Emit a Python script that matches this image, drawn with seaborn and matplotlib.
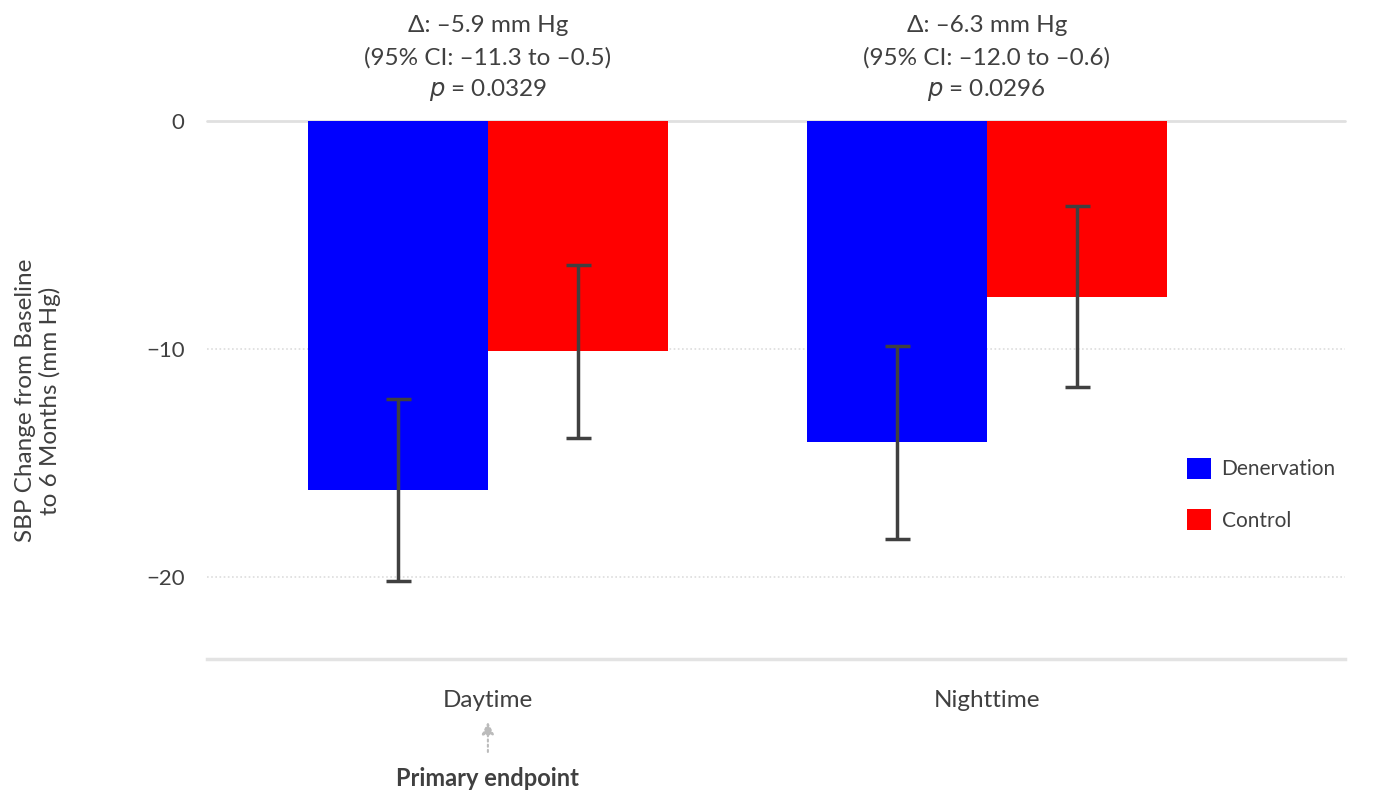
import matplotlib
matplotlib.use("Agg")
import matplotlib.pyplot as plt
import seaborn as sns
import pandas as pd
import numpy as np

categories = ["Daytime", "Nighttime"]
groups = ["Denervation", "Control"]
means_denervation = [-16.2, -14.1]
means_control = [-10.1, -7.7]
err_denervation = [4.0, 4.25]
err_control = [3.8, 3.95]
colors = ["#0000FF", "#FF0000"]
annotations = [
    ["Δ: –5.9 mm Hg", "(95% CI: –11.3 to –0.5)", "0.0329"],
    ["Δ: –6.3 mm Hg", "(95% CI: –12.0 to –0.6)", "0.0296"],
]
ytick_values = [0, -10, -20]

sns.set_theme(style="white")
plt.rcParams['font.family'] = ['Lato', 'DejaVu Sans']
txt = "#404040"

df = pd.DataFrame({
    "Period": categories * 2,
    "Group": [groups[0]] * 2 + [groups[1]] * 2,
    "Change": means_denervation + means_control,
})

fig = plt.figure(figsize=(13.75, 7.93), dpi=100)
ax = fig.add_axes([0.1505, 0.169, 0.8275, 0.6784])

sns.barplot(data=df, x="Period", y="Change", hue="Group", order=categories,
            hue_order=groups, palette=colors, width=0.72, saturation=1,
            errorbar=None, ax=ax, linewidth=0)

# error bars at bar centers
for container, errs in zip(ax.containers, [err_denervation, err_control]):
    for patch, e in zip(container.patches, errs):
        xc = patch.get_x() + patch.get_width() / 2
        yv = patch.get_y() + patch.get_height()
        ax.errorbar(xc, yv, yerr=e, color="#404040", elinewidth=2.5, capsize=9,
                    capthick=2.5, zorder=5)

ax.set_xlim(-0.563, 1.717)
ax.set_ylim(-23.6, 0)
ax.set_yticks(ytick_values)
ax.set_yticklabels([f"{v}".replace("-", "−") for v in ytick_values])
for v in ytick_values[1:]:
    ax.axhline(v, color="#dddddd", lw=1.2, ls=(0, (1, 1.5)), zorder=0)
ax.axhline(0, color="#e0e0e0", lw=2, zorder=0.5, clip_on=False)

for s in ["top", "right", "left"]:
    ax.spines[s].set_visible(False)
ax.spines["bottom"].set_color("#e3e3e3")
ax.spines["bottom"].set_linewidth(2.5)
ax.tick_params(axis="y", length=0, pad=16, labelsize=16, labelcolor=txt)
ax.tick_params(axis="x", length=0, pad=22, labelsize=17.5, labelcolor=txt)
ax.set_xlabel("")
ax.set_ylabel("SBP Change from Baseline\nto 6 Months (mm Hg)", fontsize=17.5, color=txt,
              labelpad=0, linespacing=1.15)
ax.yaxis.set_label_coords(-0.128, 0.48)

# annotations above bars
xt = ax.get_xaxis_transform()
for i, (l1, l2, p) in enumerate(annotations):
    for s, off in [(l1, 96), (l2, 63), (r"$\it{p}$ = " + p, 31)]:
        ax.annotate(s, xy=(i, 1.0), xycoords=xt, xytext=(0, off),
                    textcoords="offset pixels", ha="center", va="center",
                    fontsize=17.5, color=txt, annotation_clip=False)

# primary endpoint arrow
ax.annotate("", xy=(0, -0.112), xycoords=xt, xytext=(0, -0.178), textcoords=xt,
            arrowprops=dict(arrowstyle="-|>", color="#bbbbbb", lw=1.5, ls=(0, (1, 1.5)),
                            mutation_scale=18), annotation_clip=False)
ax.text(0, -0.223, "Primary endpoint", transform=xt, ha="center",
        va="center", fontsize=17, fontweight="bold", color=txt)

handles, labels = ax.get_legend_handles_labels()
leg = ax.legend(handles, labels, loc="center left", bbox_to_anchor=(0.845, 0.306),
                frameon=False, fontsize=15, handlelength=1.15, handleheight=1.15,
                labelspacing=1.45, handletextpad=0.5, labelcolor=txt)

fig.savefig("out.png", dpi=100)
